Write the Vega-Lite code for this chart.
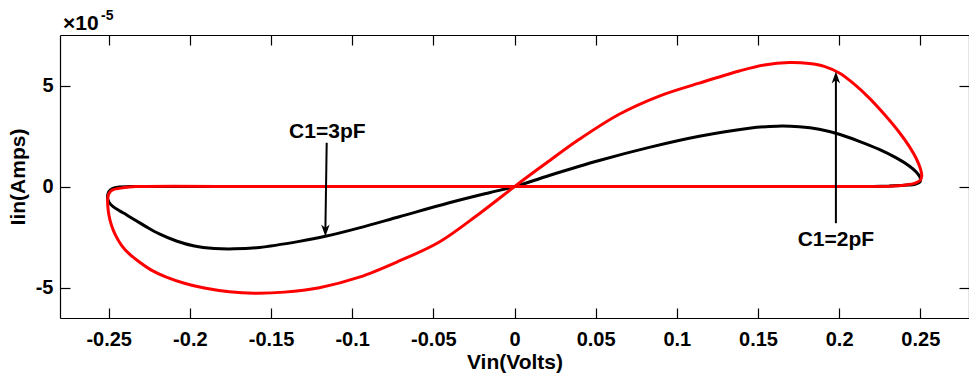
{
  "$schema": "https://vega.github.io/schema/vega-lite/v6.json",
  "width": 909,
  "height": 283,
  "autosize": {"type": "none"},
  "padding": {"left": 60, "top": 35, "right": 0, "bottom": 55},
  "background": "white",
  "config": {
    "font": "Liberation Sans",
    "view": {"stroke": null},
    "axis": {
      "domainColor": "#000", "tickColor": "#000", "labelColor": "#000", "titleColor": "#000",
      "grid": false, "tickSize": -10, "domainWidth": 1.2, "tickWidth": 1.2,
      "labelFont": "Liberation Sans", "labelFontWeight": "bold", "labelFontSize": 20,
      "titleFont": "Liberation Sans", "titleFontWeight": "bold", "titleFontSize": 21,
      "labelFlush": false, "labelOverlap": false, "labelBound": false
    }
  },
  "datasets": {
    "c3": [
      {"o": 0, "v": 0.2309, "i": 0.03},
      {"o": 1, "v": 0.2124, "i": 0.00},
      {"o": 2, "v": 0.1500, "i": 0.00},
      {"o": 3, "v": 0.0500, "i": 0.00},
      {"o": 4, "v": -0.0500, "i": 0.00},
      {"o": 5, "v": -0.1500, "i": 0.00},
      {"o": 6, "v": -0.2373, "i": 0.00},
      {"o": 7, "v": -0.2434, "i": -0.02},
      {"o": 8, "v": -0.2477, "i": -0.10},
      {"o": 9, "v": -0.2499, "i": -0.25},
      {"o": 10, "v": -0.2506, "i": -0.42},
      {"o": 11, "v": -0.2506, "i": -0.60},
      {"o": 12, "v": -0.2496, "i": -0.80},
      {"o": 13, "v": -0.2471, "i": -1.00},
      {"o": 14, "v": -0.2434, "i": -1.19},
      {"o": 15, "v": -0.2391, "i": -1.39},
      {"o": 16, "v": -0.2330, "i": -1.69},
      {"o": 17, "v": -0.2268, "i": -1.99},
      {"o": 18, "v": -0.2188, "i": -2.34},
      {"o": 19, "v": -0.2083, "i": -2.69},
      {"o": 20, "v": -0.1972, "i": -2.94},
      {"o": 21, "v": -0.1849, "i": -3.06},
      {"o": 22, "v": -0.1726, "i": -3.08},
      {"o": 23, "v": -0.1572, "i": -3.01},
      {"o": 24, "v": -0.1326, "i": -2.71},
      {"o": 25, "v": -0.1165, "i": -2.46},
      {"o": 26, "v": -0.0956, "i": -2.04},
      {"o": 27, "v": -0.0710, "i": -1.49},
      {"o": 28, "v": -0.0402, "i": -0.80},
      {"o": 29, "v": -0.0155, "i": -0.30},
      {"o": 30, "v": 0.0000, "i": 0.00},
      {"o": 31, "v": 0.0214, "i": 0.55},
      {"o": 32, "v": 0.0522, "i": 1.29},
      {"o": 33, "v": 0.0830, "i": 1.94},
      {"o": 34, "v": 0.1138, "i": 2.49},
      {"o": 35, "v": 0.1446, "i": 2.89},
      {"o": 36, "v": 0.1618, "i": 2.99},
      {"o": 37, "v": 0.1754, "i": 2.96},
      {"o": 38, "v": 0.1877, "i": 2.84},
      {"o": 39, "v": 0.2001, "i": 2.59},
      {"o": 40, "v": 0.2124, "i": 2.24},
      {"o": 41, "v": 0.2247, "i": 1.84},
      {"o": 42, "v": 0.2352, "i": 1.42},
      {"o": 43, "v": 0.2432, "i": 1.02},
      {"o": 44, "v": 0.2475, "i": 0.72},
      {"o": 45, "v": 0.2500, "i": 0.42},
      {"o": 46, "v": 0.2497, "i": 0.22},
      {"o": 47, "v": 0.2469, "i": 0.12},
      {"o": 48, "v": 0.2401, "i": 0.07},
      {"o": 49, "v": 0.2309, "i": 0.03}
    ],
    "c2": [
      {"o": 0, "v": 0.2309, "i": 0.02},
      {"o": 1, "v": 0.2124, "i": 0.00},
      {"o": 2, "v": 0.1500, "i": 0.00},
      {"o": 3, "v": 0.0500, "i": 0.00},
      {"o": 4, "v": -0.0500, "i": 0.00},
      {"o": 5, "v": -0.1500, "i": 0.00},
      {"o": 6, "v": -0.2330, "i": 0.00},
      {"o": 7, "v": -0.2414, "i": -0.06},
      {"o": 8, "v": -0.2477, "i": -0.17},
      {"o": 9, "v": -0.2499, "i": -0.35},
      {"o": 10, "v": -0.2506, "i": -0.60},
      {"o": 11, "v": -0.2506, "i": -0.90},
      {"o": 12, "v": -0.2499, "i": -1.39},
      {"o": 13, "v": -0.2484, "i": -1.89},
      {"o": 14, "v": -0.2459, "i": -2.39},
      {"o": 15, "v": -0.2422, "i": -2.89},
      {"o": 16, "v": -0.2373, "i": -3.33},
      {"o": 17, "v": -0.2311, "i": -3.73},
      {"o": 18, "v": -0.2237, "i": -4.13},
      {"o": 19, "v": -0.2145, "i": -4.48},
      {"o": 20, "v": -0.2034, "i": -4.78},
      {"o": 21, "v": -0.1911, "i": -5.02},
      {"o": 22, "v": -0.1757, "i": -5.20},
      {"o": 23, "v": -0.1603, "i": -5.27},
      {"o": 24, "v": -0.1418, "i": -5.22},
      {"o": 25, "v": -0.1202, "i": -5.00},
      {"o": 26, "v": -0.0956, "i": -4.48},
      {"o": 27, "v": -0.0710, "i": -3.68},
      {"o": 28, "v": -0.0463, "i": -2.74},
      {"o": 29, "v": -0.0217, "i": -1.34},
      {"o": 30, "v": 0.0000, "i": 0.00},
      {"o": 31, "v": 0.0183, "i": 1.09},
      {"o": 32, "v": 0.0399, "i": 2.34},
      {"o": 33, "v": 0.0645, "i": 3.58},
      {"o": 34, "v": 0.0892, "i": 4.48},
      {"o": 35, "v": 0.1138, "i": 5.12},
      {"o": 36, "v": 0.1385, "i": 5.72},
      {"o": 37, "v": 0.1539, "i": 6.02},
      {"o": 38, "v": 0.1693, "i": 6.14},
      {"o": 39, "v": 0.1816, "i": 6.09},
      {"o": 40, "v": 0.1908, "i": 5.95},
      {"o": 41, "v": 0.2001, "i": 5.62},
      {"o": 42, "v": 0.2093, "i": 5.07},
      {"o": 43, "v": 0.2186, "i": 4.38},
      {"o": 44, "v": 0.2278, "i": 3.58},
      {"o": 45, "v": 0.2370, "i": 2.69},
      {"o": 46, "v": 0.2432, "i": 1.99},
      {"o": 47, "v": 0.2475, "i": 1.39},
      {"o": 48, "v": 0.2500, "i": 0.90},
      {"o": 49, "v": 0.2509, "i": 0.55},
      {"o": 50, "v": 0.2500, "i": 0.32},
      {"o": 51, "v": 0.2469, "i": 0.17},
      {"o": 52, "v": 0.2401, "i": 0.07},
      {"o": 53, "v": 0.2309, "i": 0.02}
    ],
    "arrows": [
      {"lbl": "C1=3pF", "xs": -0.1157, "ys": 2.17, "xe": -0.1165, "ye": -2.1, "xt": -0.1165, "yt": -2.47, "dir": "down", "lx": -0.1153, "ly": 2.42},
      {"lbl": "C1=2pF", "xs": 0.1980, "ys": -1.81, "xe": 0.1980, "ye": 5.35, "xt": 0.1980, "yt": 5.69, "dir": "up", "lx": 0.1980, "ly": -2.94}
    ],
    "mult": [
      {"x": -0.28, "y": 7.5, "main": "×10", "sup": "-5"}
    ]
  },
  "layer": [
    {
      "data": {"name": "c3"},
      "mark": {"type": "line", "color": "#000000", "strokeWidth": 3, "interpolate": "catmull-rom", "strokeJoin": "round", "strokeCap": "round"},
      "encoding": {
        "x": {"field": "v", "type": "quantitative", "scale": {"domain": [-0.28, 0.28], "nice": false, "zero": false},
              "axis": {"orient": "bottom", "title": "Vin(Volts)", "values": [-0.25, -0.2, -0.15, -0.1, -0.05, 0, 0.05, 0.1, 0.15, 0.2, 0.25], "labelExpr": "'' + datum.value", "labelPadding": 21, "titlePadding": 2}},
        "y": {"field": "i", "type": "quantitative", "scale": {"domain": [-6.5, 7.5], "nice": false, "zero": false},
              "axis": {"orient": "left", "title": "Iin(Amps)", "values": [-5, 0, 5], "labelExpr": "'' + datum.value", "labelPadding": 17, "titlePadding": 7}},
        "order": {"field": "o", "type": "quantitative"}
      }
    },
    {
      "data": {"name": "c2"},
      "mark": {"type": "line", "color": "#ff0000", "strokeWidth": 3, "interpolate": "catmull-rom", "strokeJoin": "round", "strokeCap": "round"},
      "encoding": {
        "x": {"field": "v", "type": "quantitative", "scale": {"domain": [-0.28, 0.28], "nice": false, "zero": false}, "axis": null},
        "y": {"field": "i", "type": "quantitative", "scale": {"domain": [-6.5, 7.5], "nice": false, "zero": false}, "axis": null},
        "order": {"field": "o", "type": "quantitative"}
      }
    },
    {
      "data": {"name": "arrows"},
      "mark": {"type": "rule", "color": "#000000", "strokeWidth": 2},
      "encoding": {
        "x": {"field": "xs", "type": "quantitative", "scale": {"domain": [-0.28, 0.28], "nice": false, "zero": false},
              "axis": {"orient": "top", "title": null, "labels": false, "values": [-0.25, -0.2, -0.15, -0.1, -0.05, 0, 0.05, 0.1, 0.15, 0.2, 0.25]}},
        "y": {"field": "ys", "type": "quantitative", "scale": {"domain": [-6.5, 7.5], "nice": false, "zero": false},
              "axis": {"orient": "right", "title": null, "labels": false, "values": [-5, 0, 5]}},
        "x2": {"field": "xe"},
        "y2": {"field": "ye"}
      }
    },
    {
      "data": {"name": "arrows"},
      "mark": {"type": "point", "filled": true, "color": "#000000", "opacity": 1, "size": 200, "strokeWidth": 0},
      "encoding": {
        "x": {"field": "xt", "type": "quantitative", "scale": {"domain": [-0.28, 0.28], "nice": false, "zero": false}, "axis": null},
        "y": {"field": "yt", "type": "quantitative", "scale": {"domain": [-6.5, 7.5], "nice": false, "zero": false}, "axis": null},
        "shape": {"field": "dir", "type": "nominal", "legend": null,
                  "scale": {"domain": ["down", "up"], "range": ["M0,0 L-0.6,-1.7 L0,-1.2 L0.6,-1.7 Z", "M0,0 L-0.6,1.7 L0,1.2 L0.6,1.7 Z"]}}
      }
    },
    {
      "data": {"name": "arrows"},
      "mark": {"type": "text", "color": "#000000", "fontSize": 21, "fontWeight": "bold", "font": "Liberation Sans", "align": "center", "baseline": "alphabetic"},
      "encoding": {
        "x": {"field": "lx", "type": "quantitative", "scale": {"domain": [-0.28, 0.28], "nice": false, "zero": false}, "axis": null},
        "y": {"field": "ly", "type": "quantitative", "scale": {"domain": [-6.5, 7.5], "nice": false, "zero": false}, "axis": null},
        "text": {"field": "lbl"}
      }
    },
    {
      "data": {"name": "mult"},
      "mark": {"type": "text", "color": "#000000", "fontSize": 21, "fontWeight": "bold", "font": "Liberation Sans", "align": "left", "baseline": "alphabetic", "dx": 3, "dy": -5},
      "encoding": {
        "x": {"field": "x", "type": "quantitative", "scale": {"domain": [-0.28, 0.28], "nice": false, "zero": false}, "axis": null},
        "y": {"field": "y", "type": "quantitative", "scale": {"domain": [-6.5, 7.5], "nice": false, "zero": false}, "axis": null},
        "text": {"field": "main"}
      }
    },
    {
      "data": {"name": "mult"},
      "mark": {"type": "text", "color": "#000000", "fontSize": 14, "fontWeight": "bold", "font": "Liberation Sans", "align": "left", "baseline": "alphabetic", "dx": 41, "dy": -15},
      "encoding": {
        "x": {"field": "x", "type": "quantitative", "scale": {"domain": [-0.28, 0.28], "nice": false, "zero": false}, "axis": null},
        "y": {"field": "y", "type": "quantitative", "scale": {"domain": [-6.5, 7.5], "nice": false, "zero": false}, "axis": null},
        "text": {"field": "sup"}
      }
    }
  ],
  "resolve": {"axis": {"x": "independent", "y": "independent"}}
}
